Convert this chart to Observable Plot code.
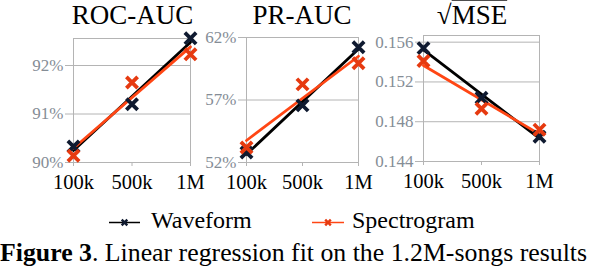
<!DOCTYPE html>
<html>
<head>
<meta charset="utf-8">
<script src="https://cdn.jsdelivr.net/npm/d3@7"></script>
<script src="https://cdn.jsdelivr.net/npm/@observablehq/plot@0.6"></script>
<style>
  html, body { margin: 0; padding: 0; background: #fff; }
  #wrap { position: relative; width: 590px; height: 266px; overflow: hidden; font-family: "Liberation Serif", serif; }
  #wrap > svg { position: absolute; left: 0; top: 0; }
  #wrap svg, #wrap svg text { font-family: "Liberation Serif", serif !important; }
</style>
</head>
<body>
<div id="wrap"></div>
<script>
// ---- data ----
const sizes = ["100k", "500k", "1M"];
const seriesNames = ["Waveform", "Spectrogram"];

const rocWave = [90.33, 91.20, 92.56];
const rocSpec = [90.14, 91.65, 92.23];
const prWave = [52.8, 56.57, 61.22];
const prSpec = [53.2, 58.25, 59.94];
const mseWave = [0.1554, 0.1504, 0.1465];
const mseSpec = [0.1541, 0.1493, 0.1472];

const rocTicks = [90, 91, 92];
const prTicks = [52, 57, 62];
const mseTicks = [0.144, 0.148, 0.152, 0.156];

const titles = ["ROC-AUC", "PR-AUC", "MSE"];
const caption = ["Figure 3", ". Linear regression fit on the 1.2M-songs results"];

// ---- styles ----
const gray = "#b4b4b4";
const labelGray = "#858d96";
const waveLine = "#000000";
const specLine = "#ff4614";
const waveMark = "#0f1a30";
const specMark = "#e63a10";
const font = "Liberation Serif, serif";

function rows(vals, series) {
  return vals.map((v, i) => ({ i, v, series }));
}

function panel({ wave, spec, ticks, fmt, domain, left, right, top, bottom }) {
  const W = 590, H = 200;
  const w = rows(wave, seriesNames[0]);
  const s = rows(spec, seriesNames[1]);
  return Plot.plot({
    width: W, height: H,
    marginLeft: left, marginRight: W - right, marginTop: top, marginBottom: H - bottom,
    style: { fontFamily: font, background: "transparent", overflow: "visible" },
    x: { domain: [0, 2] },
    y: { domain },
    marks: [
      Plot.gridY(ticks, { stroke: gray, strokeOpacity: 1 }),
      Plot.frame({ stroke: gray }),
      Plot.axisY(ticks, { tickFormat: fmt, tickSize: 8, tickPadding: 2, fontSize: 17, stroke: gray, fill: labelGray, label: null }),
      Plot.axisX([0, 1, 2], { tickFormat: i => sizes[i], tickSize: 4, tickPadding: 8, fontSize: 20.5, stroke: gray, fill: "#000", label: null }),
      Plot.linearRegressionY(w, { x: "i", y: "v", stroke: waveLine, strokeWidth: 2.8, ci: 0 }),
      Plot.linearRegressionY(s, { x: "i", y: "v", stroke: specLine, strokeWidth: 2.8, ci: 0 }),
      Plot.dot(w, { x: "i", y: "v", symbol: "times", r: 5.2, stroke: waveMark, strokeWidth: 3.8 }),
      Plot.dot(s, { x: "i", y: "v", symbol: "times", r: 5.2, stroke: specMark, strokeWidth: 3.8 })
    ]
  });
}

const wrap = document.getElementById("wrap");

wrap.appendChild(panel({ wave: rocWave, spec: rocSpec, ticks: rocTicks, fmt: d => d + "%",
  domain: [90, 92.557], left: 73, right: 190, top: 38, bottom: 162 }));
wrap.appendChild(panel({ wave: prWave, spec: prSpec, ticks: prTicks, fmt: d => d + "%",
  domain: [52, 62], left: 246, right: 358, top: 37, bottom: 162 }));
wrap.appendChild(panel({ wave: mseWave, spec: mseSpec, ticks: mseTicks, fmt: d => d.toFixed(3),
  domain: [0.144, 0.15667], left: 423, right: 539, top: 35, bottom: 161 }));

// ---- titles, legend, caption overlay ----
const ov = d3.select(wrap).append("svg")
  .attr("width", 590).attr("height", 266)
  .attr("font-family", font);

ov.append("text").attr("x", 132.5).attr("y", 24).attr("text-anchor", "middle")
  .attr("font-size", 27).text(titles[0]);
ov.append("text").attr("x", 302).attr("y", 24).attr("text-anchor", "middle")
  .attr("font-size", 27).text(titles[1]);
const t3 = ov.append("text").attr("x", 472).attr("y", 24).attr("text-anchor", "middle")
  .attr("font-size", 27);
t3.append("tspan").text("\u221A");
t3.append("tspan").style("text-decoration", "overline").text(titles[2]);

// legend
const legendItems = [
  { name: seriesNames[0], line: waveLine, mark: waveMark, x0: 109, x1: 140, tx: 151 },
  { name: seriesNames[1], line: specLine, mark: specMark, x0: 312, x1: 344, tx: 352 }
];
legendItems.forEach(it => {
  const g = ov.append("g");
  g.append("line").attr("x1", it.x0).attr("x2", it.x1).attr("y1", 222.5).attr("y2", 222.5)
    .attr("stroke", it.line).attr("stroke-width", 1.5);
  const cx = (it.x0 + it.x1) / 2, r = 2.8;
  g.append("path").attr("d", `M${cx - r},${222.5 - r}L${cx + r},${222.5 + r}M${cx - r},${222.5 + r}L${cx + r},${222.5 - r}`)
    .attr("stroke", it.mark).attr("stroke-width", 2.4);
  g.append("text").attr("x", it.tx).attr("y", 228).attr("font-size", 24).text(it.name);
});

// caption
const cap = ov.append("text").attr("x", 0).attr("y", 261).attr("font-size", 25.8);
cap.append("tspan").attr("font-weight", "bold").text(caption[0]);
cap.append("tspan").text(caption[1]);
</script>
</body>
</html>
